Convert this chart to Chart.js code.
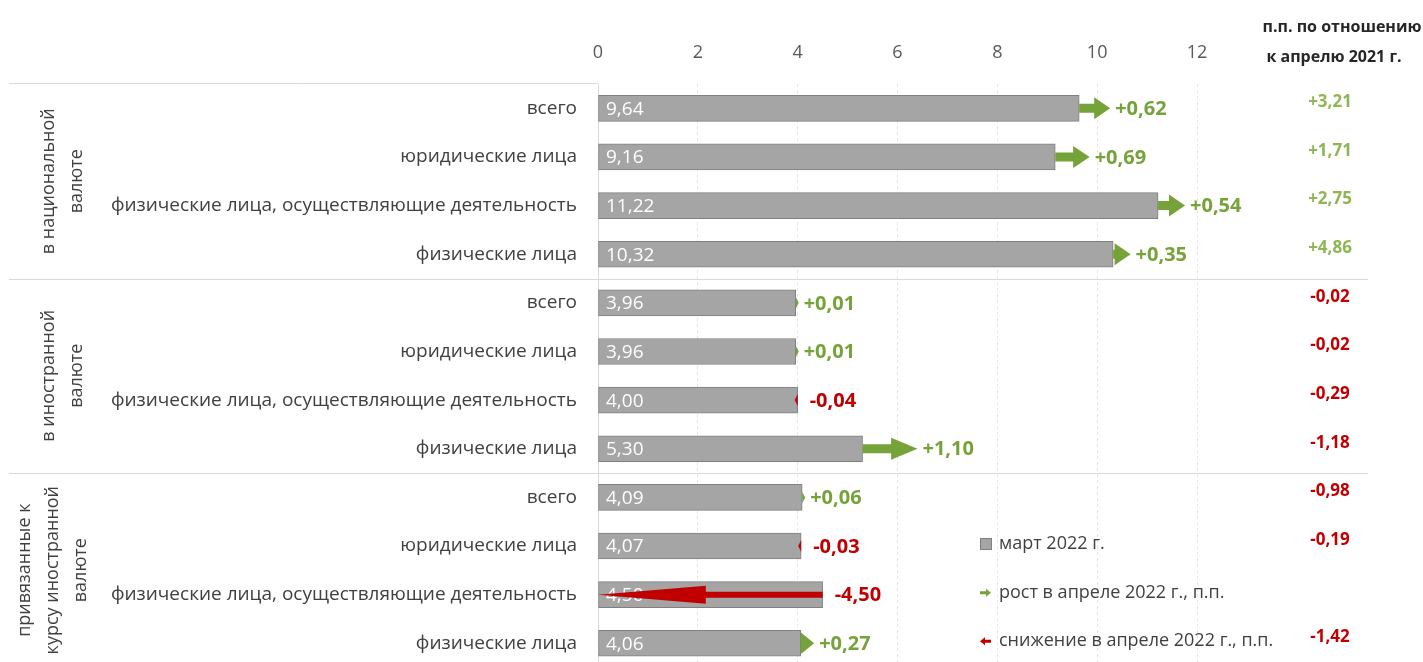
<!DOCTYPE html>
<html>
<head>
<meta charset="utf-8">
<script src="https://cdn.jsdelivr.net/npm/chart.js@4.4.1/dist/chart.umd.min.js"></script>
<style>
	html, body { margin: 0; padding: 0; background: #fff; overflow: hidden; }
	canvas { display: block; }
</style>
</head>
<body>
<canvas id="creditChart" width="1423" height="700"></canvas>
<script>
// категории (строки)
const categories = [
	'всего', 'юридические лица', 'физические лица, осуществляющие деятельность', 'физические лица',
	'всего', 'юридические лица', 'физические лица, осуществляющие деятельность', 'физические лица',
	'всего', 'юридические лица', 'физические лица, осуществляющие деятельность', 'физические лица'
];
const groupNames = [
	['в национальной', 'валюте'],
	['в иностранной', 'валюте'],
	['привязанные к', 'курсу иностранной', 'валюте']
];
const groupSize = 4;

// март 2022 г.
const marchValues = [9.64, 9.16, 11.22, 10.32, 3.96, 3.96, 4.00, 5.30, 4.09, 4.07, 4.50, 4.06];
// изменение в апреле 2022 г., п.п.
const aprilChange = [0.62, 0.69, 0.54, 0.35, 0.01, 0.01, -0.04, 1.10, 0.06, -0.03, -4.50, 0.27];
// п.п. по отношению к апрелю 2021 г.
const vsApril2021 = [3.21, 1.71, 2.75, 4.86, -0.02, -0.02, -0.29, -1.18, -0.98, -0.19, null, -1.42];

const xTicks = [0, 2, 4, 6, 8, 10, 12];

const GREEN = '#76a23a';
const GREEN_LIGHT = '#8fb653';
const RED = '#c00000';
const TEXT = '#404040';
const FONT = "'Open Sans', 'Noto Sans', sans-serif";

function fmt(v, sign) {
	let s = Math.abs(v).toFixed(2).replace('.', ',');
	if (sign) s = (v < 0 ? '-' : '+') + s;
	return s;
}

function drawArrow(ctx, x0, x1, yc, color, big) {
	const dir = x1 >= x0 ? 1 : -1;
	let len = Math.abs(x1 - x0);
	if (len < 3) len = 3;
	const tip = x0 + dir * len;
	const headLen = Math.min(len, Math.max(16, len * 0.48));
	let headW = len < 8 ? 6 : 11;
	let shaft = 9;
	if (big) { headW = 9; shaft = 6; }
	const hb = tip - dir * headLen;
	ctx.save();
	ctx.fillStyle = color;
	ctx.beginPath();
	ctx.moveTo(x0, yc - shaft / 2);
	ctx.lineTo(hb, yc - shaft / 2);
	ctx.lineTo(hb, yc - headW);
	ctx.lineTo(tip, yc);
	ctx.lineTo(hb, yc + headW);
	ctx.lineTo(hb, yc + shaft / 2);
	ctx.lineTo(x0, yc + shaft / 2);
	ctx.closePath();
	ctx.fill();
	ctx.restore();
}

function legendArrow(ctx, xl, yc, dir, color) {
	// маленькая стрелка для легенды
	const x0 = dir > 0 ? xl : xl + 11;
	ctx.save();
	ctx.fillStyle = color;
	ctx.beginPath();
	ctx.moveTo(x0, yc - 1.5);
	ctx.lineTo(x0 + dir * 6, yc - 1.5);
	ctx.lineTo(x0 + dir * 6, yc - 4);
	ctx.lineTo(x0 + dir * 11, yc);
	ctx.lineTo(x0 + dir * 6, yc + 4);
	ctx.lineTo(x0 + dir * 6, yc + 1.5);
	ctx.lineTo(x0, yc + 1.5);
	ctx.closePath();
	ctx.fill();
	ctx.restore();
}

const decorPlugin = {
	id: 'decor',
	beforeDatasetsDraw(chart) {
		const { ctx, chartArea, scales: { y } } = chart;
		ctx.save();
		ctx.strokeStyle = '#d9d9d9';
		ctx.lineWidth = 1;
		// верхняя линия таблицы
		ctx.beginPath();
		ctx.moveTo(9, Math.round(chartArea.top) - 0.5);
		ctx.lineTo(chartArea.left, Math.round(chartArea.top) - 0.5);
		ctx.stroke();
		// разделители групп
		for (let g = 1; g < groupNames.length; g++) {
			const yy = (y.getPixelForValue(g * groupSize - 1) + y.getPixelForValue(g * groupSize)) / 2;
			ctx.beginPath();
			ctx.moveTo(9, Math.round(yy) + 0.5);
			ctx.lineTo(1368, Math.round(yy) + 0.5);
			ctx.stroke();
		}
		// подписи групп (вертикально)
		ctx.fillStyle = TEXT;
		ctx.font = '18px ' + FONT;
		ctx.textAlign = 'center';
		ctx.textBaseline = 'middle';
		groupNames.forEach((lines, g) => {
			const top = g === 0 ? chartArea.top : (y.getPixelForValue(g * groupSize - 1) + y.getPixelForValue(g * groupSize)) / 2;
			const last = (g + 1) * groupSize - 1;
			const bottom = g === groupNames.length - 1 ? y.getPixelForValue(last) + 24
				: (y.getPixelForValue(last) + y.getPixelForValue(last + 1)) / 2;
			const cy = (top + bottom) / 2;
			const startX = lines.length === 3 ? 25 : 49;
			lines.forEach((t, k) => {
				ctx.save();
				ctx.translate(startX + k * 28, cy);
				ctx.rotate(-Math.PI / 2);
				ctx.fillText(t, 0, 0);
				ctx.restore();
			});
		});
		ctx.restore();
	},
	afterDatasetsDraw(chart) {
		const { ctx, scales: { x, y } } = chart;
		ctx.save();
		// значения внутри столбцов
		ctx.font = '19px ' + FONT;
		ctx.fillStyle = '#ffffff';
		ctx.textAlign = 'left';
		ctx.textBaseline = 'middle';
		marchValues.forEach((v, i) => {
			ctx.fillText(fmt(v, false), x.getPixelForValue(0) + 8, y.getPixelForValue(i) + 1);
		});
		// стрелки изменений и подписи
		marchValues.forEach((v, i) => {
			const d = aprilChange[i];
			const yc = y.getPixelForValue(i);
			const x0 = x.getPixelForValue(v);
			const x1 = x.getPixelForValue(v + d);
			const color = d >= 0 ? GREEN : RED;
			drawArrow(ctx, x0, x1, yc, color, Math.abs(d) > 3);
			ctx.font = 'bold 20px ' + FONT;
			ctx.fillStyle = d >= 0 ? GREEN : RED;
			ctx.textAlign = 'left';
			const lx = d >= 0 ? Math.max(x1, x0 + 3) + 5 : x0 + 12;
			ctx.fillText(fmt(d, true), lx, yc + 1);
		});
		// правая колонка
		ctx.font = 'bold 16px ' + FONT;
		ctx.textAlign = 'center';
		ctx.fillStyle = '#262626';
		ctx.fillText('п.п. по отношению', 1342, 27);
		ctx.fillText('к апрелю 2021 г.', 1334, 57);
		ctx.font = 'bold 17px ' + FONT;
		vsApril2021.forEach((v, i) => {
			if (v === null) return;
			ctx.fillStyle = v >= 0 ? GREEN_LIGHT : RED;
			ctx.fillText(fmt(v, true), 1330, y.getPixelForValue(i) - 6);
		});
		// легенда
		const ly = [y.getPixelForValue(9) - 2, y.getPixelForValue(10) - 2, y.getPixelForValue(11) - 2];
		ctx.fillStyle = '#a5a5a5';
		ctx.strokeStyle = '#808080';
		ctx.fillRect(980, ly[0] - 6, 12, 12);
		ctx.strokeRect(980.5, ly[0] - 5.5, 11, 11);
		legendArrow(ctx, 980, ly[1], 1, GREEN);
		legendArrow(ctx, 980, ly[2], -1, RED);
		ctx.font = '18px ' + FONT;
		ctx.fillStyle = TEXT;
		ctx.textAlign = 'left';
		ctx.fillText('март 2022 г.', 999, ly[0]);
		ctx.fillText('рост в апреле 2022 г., п.п.', 999, ly[1]);
		ctx.fillText('снижение в апреле 2022 г., п.п.', 999, ly[2]);
		ctx.restore();
	}
};

new Chart(document.getElementById('creditChart'), {
	type: 'bar',
	data: {
		labels: categories,
		datasets: [
			{
				label: 'март 2022 г.',
				data: marchValues,
				backgroundColor: '#a5a5a5',
				borderColor: '#808080',
				borderWidth: 1,
				borderSkipped: false,
				barThickness: 26
			}
		]
	},
	options: {
		indexAxis: 'y',
		responsive: false,
		animation: false,
		layout: { padding: { left: 0, right: 226, top: 0, bottom: 1 } },
		scales: {
			x: {
				position: 'top',
				min: 0,
				max: 12,
				afterFit: function(s) { s.height = 84; },
				afterBuildTicks: function(s) { s.ticks = xTicks.map(v => ({ value: v })); },
				grid: { color: '#e6e6e6', drawTicks: false },
				border: { display: false, dash: [3, 3] },
				ticks: {
					padding: 20,
					color: '#595959',
					font: { family: FONT, size: 18 }
				}
			},
			y: {
				afterFit: function(s) { s.width = 598; },
				grid: { display: false, drawTicks: false },
				border: { color: '#d9d9d9' },
				ticks: {
					padding: 21,
					color: TEXT,
					font: { family: FONT, size: 19 }
				}
			}
		},
		plugins: {
			legend: { display: false },
			tooltip: { enabled: false }
		}
	},
	plugins: [decorPlugin]
});
</script>
</body>
</html>
